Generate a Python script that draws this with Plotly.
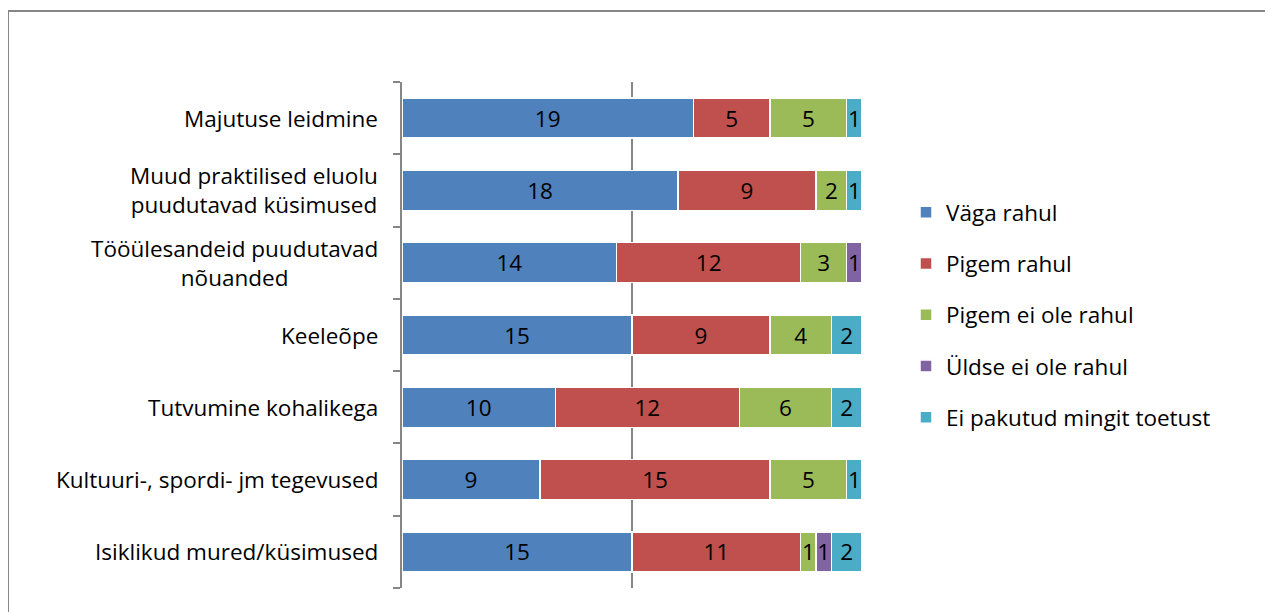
import plotly.graph_objects as go

categories = [
    "Majutuse leidmine",
    "Muud praktilised eluolu<br>puudutavad küsimused",
    "Tööülesandeid puudutavad<br>nõuanded",
    "Keeleõpe",
    "Tutvumine kohalikega",
    "Kultuuri-, spordi- jm tegevused",
    "Isiklikud mured/küsimused",
]
series_names = ["Väga rahul", "Pigem rahul", "Pigem ei ole rahul", "Üldse ei ole rahul", "Ei pakutud mingit toetust"]
vaga_rahul = [19, 18, 14, 15, 10, 9, 15]
pigem_rahul = [5, 9, 12, 9, 12, 15, 11]
pigem_ei_ole = [5, 2, 3, 4, 6, 5, 1]
uldse_ei_ole = [0, 0, 1, 0, 0, 0, 1]
ei_pakutud = [1, 1, 0, 2, 2, 1, 2]
colors = ["#4F81BD", "#C0504D", "#9BBB59", "#8064A2", "#4BACC6"]

FONT = "Open Sans"
FS = 22.5
all_series = [vaga_rahul, pigem_rahul, pigem_ei_ole, uldse_ei_ole, ei_pakutud]
ids = list(range(len(categories)))

fig = go.Figure()
for name, vals, col in zip(series_names, all_series, colors):
    fig.add_trace(go.Bar(
        y=ids, x=vals, name=name, orientation="h",
        marker=dict(color=col, line=dict(color="white", width=1.5)),
        text=[str(v) if v else "" for v in vals],
        textposition="inside", insidetextanchor="middle", textangle=0,
        textfont=dict(family=FONT, size=FS, color="black"),
        legendgroup=name,
    ))

# page body has an 8px default margin; work in reference pixel coords minus offset
OFF = 8
W, H = 1273 - OFF, 612 - OFF
L, R, T, B = 402 - OFF, 862 - OFF, 82 - OFF, 588 - OFF
pw, ph = R - L, B - T


def px(xp):
    return (xp - OFF - L) / pw


def py(yp):
    return (B - (yp - OFF)) / ph


# category labels as centered multi-line annotations
for i, c in enumerate(categories):
    fig.add_annotation(
        x=px(380), xref="paper", y=i, yref="y", text=c, showarrow=False,
        xanchor="right", yanchor="middle", align="center",
        font=dict(family=FONT, size=FS, color="black"),
    )

fig.add_shape(type="rect", xref="paper", yref="paper",
              x0=px(8), x1=px(1270), y0=py(640), y1=py(11),
              line=dict(color="#868686", width=2), fillcolor="rgba(0,0,0,0)", layer="below")

fig.update_layout(
    width=W, height=H,
    margin=dict(l=L, r=W - R, t=T, b=H - B, pad=0),
    barmode="stack", bargap=0.447,
    plot_bgcolor="white", paper_bgcolor="white",
    font=dict(family=FONT, size=FS, color="black"),
    showlegend=True,
    legend=dict(x=px(906), xanchor="left", y=py(315), yanchor="middle",
                traceorder="grouped", tracegroupgap=19,
                font=dict(family=FONT, size=FS, color="black"),
                itemclick=False, itemdoubleclick=False),
    uniformtext=dict(minsize=FS, mode="show"),
    xaxis=dict(range=[0, 30], tickvals=[0, 15, 30], showticklabels=False,
               showgrid=True, gridcolor="#868686", gridwidth=1.5,
               zeroline=False, showline=False, ticks=""),
    yaxis=dict(tickvals=[i - 0.5 for i in range(len(categories) + 1)],
               ticktext=["" for _ in range(len(categories) + 1)],
               range=[len(categories) - 0.5, -0.5],
               ticks="outside", ticklen=7, tickcolor="#868686", tickwidth=1.5,
               showline=True, linecolor="#868686", linewidth=1.5,
               showgrid=False, zeroline=False),
)

fig.write_html("out.html")
